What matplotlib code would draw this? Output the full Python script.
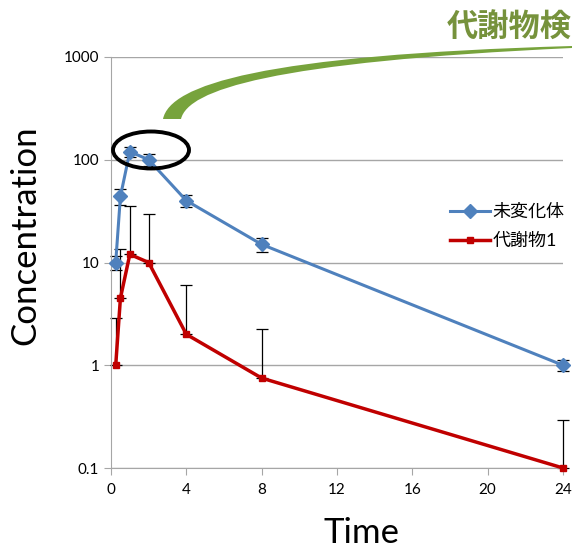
import matplotlib
matplotlib.use('Agg')
from matplotlib import pyplot as plt
from matplotlib.patches import Ellipse, PathPatch
from matplotlib.path import Path
from matplotlib.ticker import FixedLocator, FixedFormatter, NullLocator

plt.rcParams['font.family'] = ['Lato', 'Noto Sans CJK JP', 'DejaVu Sans']

# Data
times = [0.25, 0.5, 1, 2, 4, 8, 24]
parent = [10, 44, 120, 100, 40, 15, 1]
parent_err = [1.5, 8, 13, 13, 5, 2.3, 0.13]
metab = [1, 4.5, 12, 10, 2, 0.75, 0.1]
metab_err = [1.9, 9, 23.5, 19.7, 4, 1.5, 0.19]
series_names = ['未変化体', '代謝物1']
x_ticks = [0, 4, 8, 12, 16, 20, 24]
y_ticks = [0.1, 1, 10, 100, 1000]
y_labels = ['0.1', '1', '10', '100', '1000']

W, H = 572, 550
fig = plt.figure(figsize=(W / 100, H / 100), dpi=100)
ax = fig.add_axes([111 / W, 1 - 468 / H, 452 / W, 411 / H])

blue = '#4F81BD'
red = '#C00000'

# error bars (black, thin)
ax.errorbar(times, parent, yerr=parent_err, fmt='none', ecolor='black',
            elinewidth=0.9, capsize=4, capthick=0.9, zorder=2, clip_on=False)
ax.errorbar(times, metab, yerr=[[0] * len(metab), metab_err], fmt='none',
            ecolor='black', elinewidth=0.9, capsize=4, capthick=0.9,
            zorder=2, clip_on=False)

ax.plot(times, parent, color=blue, lw=2.2, marker='D', ms=7.5,
        label=series_names[0], zorder=3, clip_on=False)
ax.plot(times, metab, color=red, lw=2.5, marker='s', ms=4.5,
        label=series_names[1], zorder=3, clip_on=False)

ax.set_yscale('log')
ax.set_xlim(0, 24)
ax.set_ylim(0.1, 1000)
ax.yaxis.set_major_locator(FixedLocator(y_ticks))
ax.yaxis.set_major_formatter(FixedFormatter(y_labels))
ax.yaxis.set_minor_locator(NullLocator())
ax.set_xticks(x_ticks)

ax.grid(axis='y', color='#A6A6A6', lw=1)
ax.set_axisbelow(True)
for s in ['top', 'right']:
    ax.spines[s].set_visible(False)
for s in ['left', 'bottom']:
    ax.spines[s].set_color('#A6A6A6')
ax.tick_params(axis='both', colors='#A6A6A6', labelcolor='black',
               labelsize=11, length=5)
ax.tick_params(axis='x', pad=6)

ax.set_xlabel('Time', fontsize=25)
ax.set_ylabel('Concentration', fontsize=25)
ax.xaxis.set_label_coords((361 - 111) / 452, (468 - 533) / 411)
ax.xaxis.label.set_va('center')
ax.yaxis.set_label_coords((25 - 111) / 452, (468 - 235) / 411)
ax.yaxis.label.set_va('center')

ax.legend(loc='upper left', bbox_to_anchor=(0.75, 0.643), frameon=False,
          fontsize=13, handlelength=2.2, handletextpad=0.17,
          borderaxespad=0, borderpad=0, labelspacing=0.72)

# annotation ellipse
fig.patches.append(Ellipse((151 / W, 1 - 150 / H), 76 / W, 37 / H,
                           transform=fig.transFigure, fill=False,
                           ec='black', lw=2.8))

# green swoosh
def fp(x, y):
    return (x / W, 1 - y / H)

verts = [fp(163, 119), fp(170, 85), fp(260, 55), fp(572, 46),
         fp(572, 48), fp(270, 62), fp(188, 90), fp(181, 119),
         fp(163, 119)]
codes = [Path.MOVETO, Path.CURVE4, Path.CURVE4, Path.CURVE4,
         Path.LINETO, Path.CURVE4, Path.CURVE4, Path.CURVE4,
         Path.CLOSEPOLY]
fig.patches.append(PathPatch(Path(verts, codes), transform=fig.transFigure,
                             fc='#77A33C', ec='none'))

fig.text(447 / W, 1 - 28 / H, '代謝物検', color='#76923C', fontsize=22.5,
         fontweight='bold', va='center', ha='left',
         family=['Noto Sans CJK JP'])

fig.savefig('out.png', dpi=100)
